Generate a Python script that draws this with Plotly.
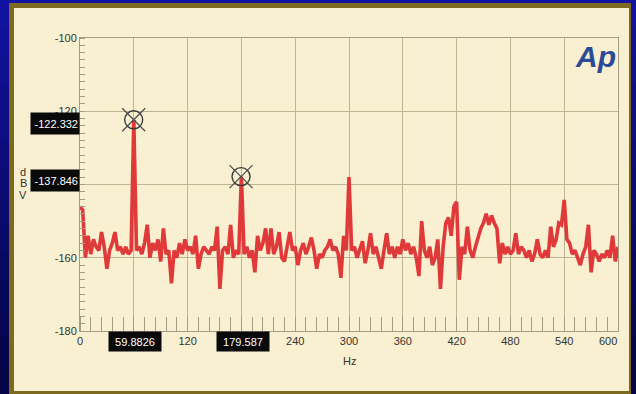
import plotly.graph_objects as go

# ---- data ----
freq_hz = [i * 3 for i in range(201)]  # FFT bins, 0..600 Hz
level_dbv = [
    -146, -147, -160, -154, -159, -155, -157, -158, -153, -157,
    -163, -158, -156, -153, -158, -157, -159, -157, -159, -158,
    -122.3, -158, -157, -159, -156, -151, -160, -156, -158, -155,
    -161, -152, -159, -158, -167, -158, -160, -156, -159, -155,
    -158, -157, -159, -154, -163, -159, -157, -158, -159, -157,
    -158, -151.5, -168.5, -158, -157, -159, -151, -160, -158, -159,
    -137.8, -159, -157, -160, -158, -164, -154, -158, -156, -152,
    -159, -152, -159, -157, -153, -160, -161, -157, -153, -158,
    -157, -162, -158, -156, -159, -157, -154.5, -158, -163, -159,
    -160, -158, -157, -155, -158, -157, -159, -165.5, -154, -158,
    -138, -158, -157, -160, -158, -155.5, -161.5, -158, -153.3, -159,
    -157, -160, -163, -158, -153.3, -159, -157, -160, -157, -159,
    -155, -158, -156, -159, -157, -160, -165, -150, -158, -160,
    -157, -162, -160, -155, -168.5, -157, -150.5, -149, -154, -146,
    -144.7, -166, -157, -159, -151.5, -158, -160, -157, -154, -152,
    -150.5, -148, -151, -148.5, -150.5, -152, -161.5, -156, -159, -157,
    -159, -158, -153.3, -159, -157, -158, -160, -158, -161, -159,
    -155, -159, -160, -158, -160, -151.5, -157, -155, -150.5, -151,
    -144.2, -155, -156, -159, -158, -160, -162, -159, -157, -151,
    -164, -158, -159, -161, -159, -160, -158, -160, -154, -161,
    -157,
]

cursor_hz = [59.8826, 179.587]
cursor_dbv = [-122.332, -137.846]
cursor_hz_text = ["59.8826", "179.587"]
cursor_dbv_text = ["-122.332", "-137.846"]

x_tickvals = [0, 60, 120, 180, 240, 300, 360, 420, 480, 540, 600]
x_ticktext = ["0", "", "120", "", "240", "300", "360", "420", "480", "540", ""]
y_tickvals = [-180, -160, -140, -120, -100]
y_ticktext = ["-180", "-160", "", "-120", "-100"]

# ---- geometry helpers (pixel -> paper) ----
W, H = 636, 394
L, R, T, B = 80, 18, 38, 63
PW, PH = W - L - R, H - T - B


def px(x):
    return (x - L) / PW


def py(y):
    return (H - B - y) / PH


fig = go.Figure()

fig.add_trace(go.Scatter(
    x=freq_hz, y=level_dbv, mode="lines",
    line=dict(color="#e0393a", width=3.6),
    hoverinfo="skip", showlegend=False,
))
fig.add_trace(go.Scatter(
    x=cursor_hz, y=cursor_dbv, mode="markers",
    marker=dict(symbol="circle-open", size=18, color="#3a3a3a",
                line=dict(width=1.4, color="#3a3a3a")),
    hoverinfo="skip", showlegend=False,
))
fig.add_trace(go.Scatter(
    x=cursor_hz, y=cursor_dbv, mode="markers",
    marker=dict(symbol="x-thin-open", size=23, color="#4a4a4a",
                line=dict(width=1.2, color="#4a4a4a")),
    hoverinfo="skip", showlegend=False,
))

shapes = []
# blue background gradient bands
n = 14
top_c, bot_c = (18, 18, 160), (4, 4, 70)
for i in range(n):
    t = i / (n - 1)
    c = tuple(int(top_c[k] + (bot_c[k] - top_c[k]) * t) for k in range(3))
    shapes.append(dict(type="rect", xref="paper", yref="paper",
                       x0=px(-2), x1=px(W + 2),
                       y0=py(i * H / n - 1), y1=py((i + 1) * H / n + 1),
                       fillcolor="rgb(%d,%d,%d)" % c, line=dict(width=0),
                       layer="below"))
# gold frame and cream panel
shapes.append(dict(type="rect", xref="paper", yref="paper",
                   x0=px(9), x1=px(631), y0=py(3), y1=py(H + 3),
                   fillcolor="#7d6a1e", line=dict(width=0), layer="below"))
shapes.append(dict(type="rect", xref="paper", yref="paper",
                   x0=px(14), x1=px(629), y0=py(8), y1=py(391),
                   fillcolor="#f8f0d0", line=dict(width=0), layer="below"))

annotations = []
lab_font = dict(family="Liberation Sans, Arial, sans-serif", size=11, color="#ffffff")
for v, t in zip(cursor_dbv, cursor_dbv_text):
    annotations.append(dict(
        xref="paper", yref="y", x=0, y=v - 1.1, xanchor="right", yanchor="middle",
        text=t, showarrow=False, bgcolor="#0a0a0a", font=lab_font,
        width=46, height=19, borderpad=1, align="right"))
for v, t in zip(cursor_hz, cursor_hz_text):
    annotations.append(dict(
        xref="x", yref="paper", x=v + 2, y=py(341.5), xanchor="center",
        yanchor="middle", text=t, showarrow=False, bgcolor="#0a0a0a",
        font=lab_font, width=50, height=17, borderpad=1))

txt_font = dict(family="Liberation Sans, Arial, sans-serif", size=11, color="#333333")
annotations.append(dict(xref="x", yref="paper", x=600, y=py(341), xshift=-10,
                        text="600", showarrow=False, font=txt_font,
                        xanchor="center", yanchor="middle"))
annotations.append(dict(xref="paper", yref="paper", x=px(349), y=py(361),
                        text="Hz", showarrow=False, font=txt_font,
                        xanchor="center", yanchor="middle"))
for letter, yy in zip(["d", "B", "V"], [172, 183.5, 195]):
    annotations.append(dict(xref="paper", yref="paper", x=px(23), y=py(yy),
                            text=letter, showarrow=False, font=txt_font,
                            xanchor="center", yanchor="middle"))
annotations.append(dict(xref="paper", yref="paper", x=px(595), y=py(57),
                        text="<b><i>Ap</i></b>", showarrow=False,
                        font=dict(family="Liberation Sans, Arial, sans-serif",
                                  size=30, color="#2b4a98"),
                        xanchor="center", yanchor="middle"))

grid_c = "#bdb594"
axis_c = "#a39d84"
fig.update_layout(
    width=W, height=H,
    margin=dict(l=L, r=R, t=T, b=B, pad=0),
    paper_bgcolor="#0a0a88",
    plot_bgcolor="#f8f0d0",
    shapes=shapes,
    annotations=annotations,
    font=txt_font,
    xaxis=dict(range=[0, 600], tickvals=x_tickvals, ticktext=x_ticktext,
               showgrid=True, gridcolor=grid_c, gridwidth=1,
               showline=True, linecolor=axis_c, linewidth=1, mirror=True,
               zeroline=False, ticks="", tickfont=txt_font,
               minor=dict(tick0=0, dtick=12, ticks="inside", ticklen=14,
                          tickcolor=axis_c, tickwidth=1, showgrid=False)),
    yaxis=dict(range=[-180, -100], tickvals=y_tickvals, ticktext=y_ticktext,
               showgrid=True, gridcolor=grid_c, gridwidth=1,
               showline=True, linecolor=axis_c, linewidth=1, mirror=True,
               zeroline=False, ticks="", tickfont=txt_font,
               minor=dict(tick0=-180, dtick=2, ticks="inside", ticklen=5,
                          tickcolor=axis_c, tickwidth=1, showgrid=False)),
)

fig.write_html(
    "out.html",
    config={"displayModeBar": False},
    post_script="document.body.style.margin='0';document.body.style.padding='0';"
                "document.body.style.overflow='hidden';",
)
